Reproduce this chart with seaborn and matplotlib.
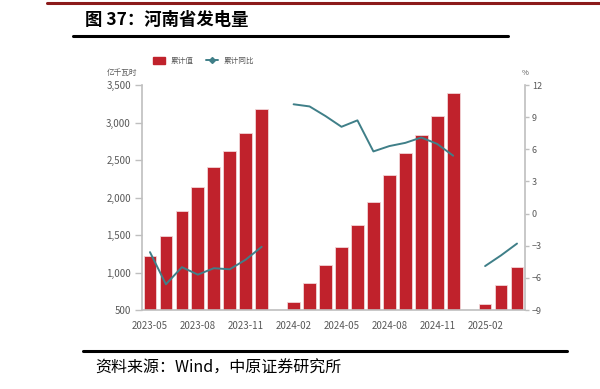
import numpy as np
import pandas as pd
import matplotlib
matplotlib.use("Agg")
import matplotlib.pyplot as plt
import seaborn as sns
from matplotlib.lines import Line2D
from matplotlib.patches import Patch

# monthly categories 2023-05 .. 2025-04
months = ["2023-05", "2023-06", "2023-07", "2023-08", "2023-09", "2023-10",
          "2023-11", "2023-12", "2024-01", "2024-02", "2024-03", "2024-04",
          "2024-05", "2024-06", "2024-07", "2024-08", "2024-09", "2024-10",
          "2024-11", "2024-12", "2025-01", "2025-02", "2025-03", "2025-04"]

# cumulative generation (亿千瓦时)
cum_value = [1225, 1490, 1824, 2144, 2402, 2620, 2860, 3176, np.nan, 603,
             864, 1096, 1336, 1638, 1944, 2296, 2589, 2838, 3087, 3393,
             np.nan, 576, 833, 1069]

# cumulative yoy (%)
cum_yoy = [-3.6, -6.6, -5.0, -5.7, -5.1, -5.2, -4.3, -3.1, np.nan, 10.2,
           10.0, 9.1, 8.1, 8.7, 5.8, 6.3, 6.6, 7.1, 6.5, 5.4,
           np.nan, -4.9, -3.9, -2.8]

tick_months = ["2023-05", "2023-08", "2023-11", "2024-02", "2024-05",
               "2024-08", "2024-11", "2025-02"]

bar_color = "#C0222C"
line_color = "#3F7F88"
grey = "#BFBFBF"
text_grey = "#595959"

sns.set_style("white")
plt.rcParams["font.family"] = ["Noto Sans CJK SC", "DejaVu Sans"]

df = pd.DataFrame({"month": months, "value": cum_value, "yoy": cum_yoy})
df["pos"] = np.arange(len(months))
# segment id so the line breaks where data is missing
df["seg"] = df["yoy"].isna().cumsum()

fig = plt.figure(figsize=(6, 3.89), dpi=100)
ax = fig.add_axes([142 / 600, 1 - 310 / 389, 383 / 600, 225 / 389])

sns.barplot(data=df, x="month", y="value", order=months, color=bar_color,
            saturation=1, width=0.8, edgecolor="#F2D5D7", linewidth=0.6, ax=ax)
ax.set_ylim(500, 3500)
ax.set_xlim(-0.5, len(months) - 0.5)
ax.set_yticks(range(500, 3501, 500))
ax.set_yticklabels([f"{v:,}" for v in range(500, 3501, 500)])
ax.set_xticks([months.index(m) for m in tick_months])
ax.set_xticklabels(tick_months)
ax.set_xlabel("")
ax.set_ylabel("")

ax2 = ax.twinx()
sns.lineplot(data=df.dropna(subset=["yoy"]), x="pos", y="yoy", units="seg",
             estimator=None, color=line_color, linewidth=1.4, ax=ax2)
ax2.set_ylim(-9, 12)
ax2.set_yticks(range(-9, 13, 3))
ax2.set_ylabel("")
ax2.set_xlim(-0.5, len(months) - 0.5)

for a in (ax, ax2):
    for s in a.spines.values():
        s.set_visible(False)
    a.grid(False)

ax.spines["left"].set_visible(True)
ax.spines["left"].set_color(grey)
ax.spines["left"].set_linewidth(1.2)
ax.spines["bottom"].set_visible(True)
ax.spines["bottom"].set_color(grey)
ax.spines["bottom"].set_linewidth(1.2)
ax2.spines["right"].set_visible(True)
ax2.spines["right"].set_color(grey)
ax2.spines["right"].set_linewidth(1.2)

ax.tick_params(axis="y", length=5, width=1, color=grey, pad=3,
               labelsize=7, labelcolor=text_grey, left=True)
ax.tick_params(axis="x", length=0, pad=8, labelsize=7, labelcolor=text_grey)
ax2.tick_params(axis="y", length=3, width=1, color=grey, pad=2,
                labelsize=6.5, labelcolor=text_grey, right=True)

# unit labels
fig.text(107 / 600, 1 - 73 / 389, "亿千瓦时", fontsize=5.5, color=text_grey,
         va="center")
fig.text(522 / 600, 1 - 73 / 389, "%", fontsize=5.5, color=text_grey,
         va="center")

# legend
handles = [Patch(facecolor=bar_color, edgecolor=bar_color),
           Line2D([0], [0], color=line_color, lw=1.4, marker="D",
                  markersize=3)]
fig.legend(handles, ["累计值", "累计同比"], loc="center left",
           bbox_to_anchor=(146 / 600, 1 - 61 / 389), ncol=2, frameon=False,
           fontsize=5.5, labelcolor=text_grey, handlelength=1.6,
           handleheight=0.9, columnspacing=1.6, handletextpad=0.7)

# header / footer decorations
fig.add_artist(Line2D([47 / 600, 1], [1 - 3 / 389, 1 - 3 / 389],
                      color="#8B1A1A", lw=2.2))
fig.text(85 / 600, 1 - 20 / 389, "图 37：河南省发电量", fontsize=12.5,
         fontweight="bold", color="black", va="center")
fig.add_artist(Line2D([73 / 600, 508 / 600], [1 - 36 / 389, 1 - 36 / 389],
                      color="black", lw=2.2))
fig.add_artist(Line2D([83 / 600, 567 / 600], [1 - 351 / 389, 1 - 351 / 389],
                      color="black", lw=2.2))
fig.text(95 / 600, 1 - 368 / 389, "资料来源：Wind，中原证券研究所",
         fontsize=11.5, color="black", va="center")

fig.savefig("out.png", dpi=100)
